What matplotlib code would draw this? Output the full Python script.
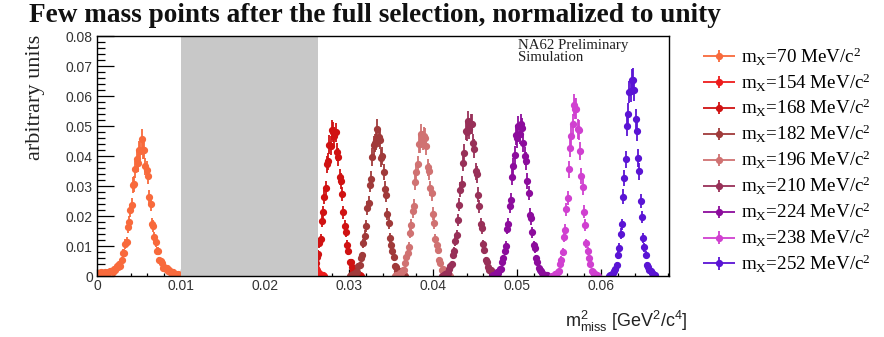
import numpy as np
import matplotlib
matplotlib.use('Agg')
import matplotlib.pyplot as plt
from matplotlib.ticker import MultipleLocator, FixedLocator, FixedFormatter
from matplotlib.legend_handler import HandlerErrorbar
from matplotlib.container import ErrorbarContainer

plt.rcParams['mathtext.default'] = 'regular'

# ---------------- data ----------------
bin_width = 0.00015
masses = [70, 154, 168, 182, 196, 210, 224, 238, 252]
bin_start = [0, 136, 165, 200, 236, 273, 313, 361, 406]
colors = ['#f86a3c', '#ee1c1c', '#d01212', '#a03a3a', '#d07272',
          '#983058', '#8c0c9c', '#d040d0', '#5a14d4']

y70 = [0.0009, 0.0011, 0.0007, 0.0012, 0.0010, 0.0008, 0.0013, 0.0011, 0.0015, 0.0012,
       0.0017, 0.0018, 0.0014, 0.0022, 0.0020, 0.0035, 0.0030, 0.0040, 0.0035, 0.0053,
       0.0076, 0.0077, 0.0107, 0.0113, 0.0164, 0.0180, 0.0219, 0.0237, 0.0304, 0.0307,
       0.0356, 0.0389, 0.0377, 0.0421, 0.0417, 0.0457, 0.0421, 0.0420, 0.0366, 0.0354,
       0.0334, 0.0264, 0.0239, 0.0175, 0.0167, 0.0130, 0.0112, 0.0083, 0.0082, 0.0053,
       0.0051, 0.0044, 0.0028, 0.0029, 0.0023, 0.0028, 0.0018, 0.0019, 0.0011, 0.0012,
       0.0013, 0.0007, 0.0008, 0.0004, 0.0006, 0.0003, 0.0002]
y154 = [0.0001, 0.0002, 0.0003, 0.0005, 0.0008, 0.0013, 0.0017, 0.0030, 0.0038, 0.0059,
        0.0072, 0.0106, 0.0127, 0.0172, 0.0212, 0.0255, 0.0288, 0.0345, 0.0370, 0.0420,
        0.0430, 0.0462, 0.0455,
        0.0449, 0.0441, 0.0403, 0.0380, 0.0330, 0.0299, 0.0243, 0.0211, 0.0160, 0.0136,
        0.0098, 0.0079, 0.0053, 0.0042, 0.0026, 0.0021, 0.0011, 0.0009, 0.0004, 0.0003,
        0.0002, 0.0001]
y168 = [0.0001, 0.0001, 0.0003, 0.0004, 0.0011, 0.0012, 0.0022, 0.0024, 0.0042, 0.0065,
        0.0073, 0.0110, 0.0123, 0.0185, 0.0212, 0.0263, 0.0292, 0.0373, 0.0382, 0.0438,
        0.0435, 0.0487, 0.0480,
        0.0466, 0.0479, 0.0414, 0.0398, 0.0329, 0.0316, 0.0273, 0.0213, 0.0167, 0.0148,
        0.0105, 0.0082, 0.0048, 0.0046, 0.0030, 0.0017, 0.0016, 0.0007, 0.0006, 0.0002,
        0.0003, 0.0001]
y182 = [0.0001, 0.0002, 0.0002, 0.0006, 0.0007, 0.0014, 0.0015, 0.0035, 0.0038, 0.0060,
        0.0069, 0.0109, 0.0135, 0.0166, 0.0227, 0.0244, 0.0305, 0.0322, 0.0396, 0.0436,
        0.0443, 0.0453, 0.0489,
        0.0462, 0.0455, 0.0393, 0.0399, 0.0347, 0.0290, 0.0270, 0.0207, 0.0177, 0.0126,
        0.0104, 0.0084, 0.0062, 0.0034, 0.0030, 0.0017, 0.0018, 0.0008, 0.0006, 0.0002,
        0.0002, 0.0001]
y196 = [0.0001, 0.0003, 0.0003, 0.0004, 0.0010, 0.0011, 0.0020, 0.0021, 0.0044, 0.0063,
        0.0076, 0.0098, 0.0145, 0.0170, 0.0216, 0.0234, 0.0312, 0.0347, 0.0372, 0.0440,
        0.0441, 0.0474, 0.0453,
        0.0466, 0.0460, 0.0434, 0.0363, 0.0349, 0.0292, 0.0276, 0.0208, 0.0178, 0.0125,
        0.0104, 0.0087, 0.0052, 0.0043, 0.0021, 0.0023, 0.0012, 0.0009, 0.0004, 0.0004,
        0.0002, 0.0001]
y210 = [0.0001, 0.0001, 0.0004, 0.0006, 0.0010, 0.0010, 0.0024, 0.0032, 0.0040, 0.0070,
        0.0082, 0.0117, 0.0136, 0.0186, 0.0238, 0.0288, 0.0306, 0.0378, 0.0409, 0.0485,
        0.0481, 0.0516, 0.0490,
        0.0506, 0.0507, 0.0443, 0.0425, 0.0349, 0.0339, 0.0271, 0.0232, 0.0174, 0.0160,
        0.0106, 0.0088, 0.0054, 0.0048, 0.0031, 0.0019, 0.0019, 0.0007, 0.0007, 0.0002,
        0.0003, 0.0001]
y224 = [0.0001, 0.0002, 0.0002, 0.0006, 0.0012, 0.0011, 0.0022, 0.0023, 0.0048, 0.0059,
        0.0085, 0.0101, 0.0158, 0.0175, 0.0232, 0.0254, 0.0330, 0.0366, 0.0403, 0.0470,
        0.0460, 0.0500, 0.0474,
        0.0506, 0.0494, 0.0443, 0.0399, 0.0383, 0.0317, 0.0277, 0.0205, 0.0192, 0.0146,
        0.0103, 0.0092, 0.0059, 0.0046, 0.0026, 0.0020, 0.0016, 0.0011, 0.0004, 0.0004,
        0.0002, 0.0002]
y238 = [0.0001, 0.0001, 0.0006, 0.0006, 0.0014, 0.0018, 0.0039, 0.0055, 0.0079, 0.0130,
        0.0155, 0.0222, 0.0260, 0.0356, 0.0428, 0.0467, 0.0507, 0.0570,
        0.0558,
        0.0557, 0.0489, 0.0486, 0.0416, 0.0334, 0.0297, 0.0214, 0.0170, 0.0109, 0.0083,
        0.0060, 0.0039, 0.0017, 0.0014, 0.0006, 0.0006, 0.0002, 0.0001]
y252 = [0.0001, 0.0003, 0.0003, 0.0010, 0.0018, 0.0024, 0.0038, 0.0070, 0.0094, 0.0141,
        0.0172, 0.0265, 0.0328, 0.0389, 0.0500, 0.0541, 0.0613, 0.0617,
        0.0652,
        0.0654, 0.0620, 0.0522, 0.0484, 0.0393, 0.0349, 0.0251, 0.0197, 0.0127, 0.0096,
        0.0071, 0.0037, 0.0030, 0.0020, 0.0016, 0.0010, 0.0007, 0.0004]
series = [y70, y154, y168, y182, y196, y210, y224, y238, y252]

x_ticks = [0, 0.01, 0.02, 0.03, 0.04, 0.05, 0.06]
x_ticklabels = ['0', '0.01', '0.02', '0.03', '0.04', '0.05', '0.06']
y_ticks = [0, 0.01, 0.02, 0.03, 0.04, 0.05, 0.06, 0.07, 0.08]
y_ticklabels = ['0', '0.01', '0.02', '0.03', '0.04', '0.05', '0.06', '0.07', '0.08']
blind_region = (0.01, 0.0263)

# ---------------- figure ----------------
fig = plt.figure(figsize=(8.84, 3.37), dpi=100)
ax = fig.add_axes([0.1097, 0.181, 0.6471, 0.712])

handles = []
labels = []
for m, k0, c, y in zip(masses, bin_start, colors, series):
    y = np.asarray(y)
    x = bin_width * (k0 + np.arange(len(y)) + 0.5)
    err = np.sqrt(y * 2.2e-4)
    h = ax.errorbar(x, y, yerr=err, xerr=bin_width / 2, fmt='o', ms=4.2,
                    color=c, ecolor=c, elinewidth=1.3, capsize=0, zorder=2)
    handles.append(h)
    labels.append('m$_{X}$=%d MeV/c$^{2}$' % m)

ax.axvspan(blind_region[0], blind_region[1], color='#c8c8c8', lw=0, zorder=3)

ax.set_xlim(0, 0.0681)
ax.set_ylim(0, 0.08)
for s in ax.spines.values():
    s.set_zorder(5)
    s.set_linewidth(1.0)

ax.xaxis.set_major_locator(FixedLocator(x_ticks))
ax.xaxis.set_major_formatter(FixedFormatter(x_ticklabels))
ax.xaxis.set_minor_locator(MultipleLocator(0.002))
ax.yaxis.set_major_locator(FixedLocator(y_ticks))
ax.yaxis.set_major_formatter(FixedFormatter(y_ticklabels))
ax.yaxis.set_minor_locator(MultipleLocator(0.002))
ax.tick_params(which='both', direction='in', top=False, right=False,
               labelsize=10, labelcolor='#333333', width=0.9)
ax.tick_params(axis='y', which='major', length=12, pad=3)
ax.tick_params(axis='y', which='minor', length=6)
ax.tick_params(axis='x', which='major', length=5, pad=2)
ax.tick_params(axis='x', which='minor', length=2.5)
for lab in ax.get_xticklabels() + ax.get_yticklabels():
    lab.set_fontfamily('Liberation Sans')

ax.text(0.0501, 0.0790, 'NA62 Preliminary\nSimulation', family='Liberation Serif',
        fontsize=10.7, va='top', ha='left', linespacing=0.92, color='#222222', zorder=6)

fig.text(0.4236, 0.953, 'Few mass points after the full selection, normalized to unity',
         ha='center', va='center', fontfamily='Liberation Serif', fontweight='bold',
         fontsize=19.6, color='#111111')
fig.text(0.040, 0.898, 'arbitrary units', rotation=90, ha='center', va='top',
         fontfamily='Liberation Serif', fontsize=16, color='#222222')
fig.text(0.778, 0.045, 'm$^{2}_{miss}$ [GeV$^{2}$/c$^{4}$]', ha='right', va='center',
         fontfamily='Liberation Sans', fontsize=13, color='#222222')

fig.legend(handles, labels, loc='upper left', bbox_to_anchor=(0.795, 0.865),
           frameon=False, prop={'family': 'Liberation Serif', 'size': 13.7},
           handlelength=1.75, labelspacing=0.2, handletextpad=0.25,
           borderaxespad=0, borderpad=0,
           handler_map={ErrorbarContainer: HandlerErrorbar(xerr_size=0.84, yerr_size=0.32)})

fig.savefig('out.png', dpi=100)
